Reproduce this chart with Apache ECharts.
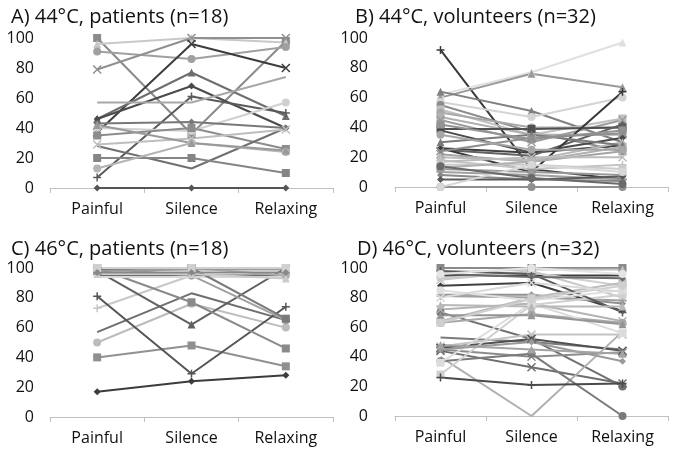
<!DOCTYPE html>
<html><head><meta charset="utf-8">
<script src="https://cdn.jsdelivr.net/npm/echarts@6/dist/echarts.min.js"></script>
<style>html,body{margin:0;padding:0;background:#fff}#c{width:675px;height:457px}</style>
</head><body><div id="c"></div>
<script>
const categories = ['Painful', 'Silence', 'Relaxing'];
const yTicks = [0, 20, 40, 60, 80, 100];
const titles = ['A) 44°C, patients (n=18)', 'B) 44°C, volunteers (n=32)', 'C) 46°C, patients (n=18)', 'D) 46°C, volunteers (n=32)'];

// Each row: one subject's ratings [Painful, Silence, Relaxing]
const panelA = [
  [0,0,0],[100,36,98],[96,100,97],[91,86,94],[79,100,100],[37,96,80],
  [46,77,48],[46,68,40],[7,61,50],[57,57,74],[40,38,57],[43,44,40],
  [35,40,26],[28,13,40],[20,20,10],[13,30,24],[29,33,39],[42,30,25]
];
const panelB = [
  [92,12,5],[62,77,97],[60,76,67],[64,51,30],[57,47,60],[55,37,24],
  [52,35,46],[50,40,40],[47,35,35],[45,30,45],[39,39,40],[38,23,33],
  [26,23,28],[25,21,42],[26,10,64],[22,17,24],[20,18,30],[18,12,15],
  [15,15,12],[13,17,27],[12,10,8],[10,8,5],[8,5,4],[5,5,7],
  [0,0,0],[0,15,10],[30,35,28],[42,32,38],[17,20,20],[24,33,36],
  [35,25,25],[14,6,2]
];
const panelC = [
  [17,24,28],[40,48,34],[50,76,60],[57,83,65],[73,95,95],[81,29,74],
  [98,62,100],[100,77,46],[95,95,95],[100,100,100],[100,95,65],[94,94,94],
  [99,100,66],[100,100,95],[98,99,99],[96,96,93],[100,100,100],[97,97,97]
];
const panelD = [
  [100,100,100],[97,99,99],[95,95,95],[88,90,71],[93,97,88],[92,98,80],
  [82,82,76],[81,80,78],[70,52,20],[72,76,64],[63,69,63],[64,80,90],
  [53,50,45],[47,55,55],[46,52,44],[45,40,43],[44,33,22],[40,0,57],
  [37,42,0],[28,75,82],[26,21,22],[36,76,56],[45,50,37],[48,45,42],
  [98,96,70],[96,94,93],[85,78,85],[75,74,74],[68,68,62],[63,79,88],
  [96,100,96],[80,90,84]
];

// Styles (kept separate from the data): line colours and marker codes per subject
const coloursA = ['#555555','#8a8a8a','#c8c8c8','#a0a0a0','#909090','#3c3c3c','#6e6e6e','#4a4a4a','#5a5a5a','#a8a8a8','#d0d0d0','#787878','#8c8c8c','#707070','#858585','#b4b4b4','#bebebe','#9a9a9a'];
const markersA = ['d','s','t','c','x','x','t','d','p','n','c','d','s','n','s','c','x','t'];
const coloursB = ['#3a3a3a','#e0e0e0','#9a9a9a','#808080','#d4d4d4','#8c8c8c','#c0c0c0','#a8a8a8','#b0b0b0','#9c9c9c','#505050','#4a4a4a','#3e3e3e','#606060','#383838','#a4a4a4','#b8b8b8','#c4c4c4','#cccccc','#b0b0b0','#989898','#a0a0a0','#888888','#5a5a5a','#909090','#d8d8d8','#7a7a7a','#949494','#bcbcbc','#8e8e8e','#a6a6a6','#6a6a6a'];
const markersB = ['p','t','t','t','c','c','s','c','s','x','s','d','d','d','p','x','t','p','s','s','c','p','d','d','c','c','t','s','x','x','c','c'];
const coloursC = ['#3c3c3c','#909090','#bcbcbc','#6e6e6e','#c8c8c8','#555555','#606060','#8a8a8a','#6a6a6a','#c0c0c0','#a0a0a0','#d8d8d8','#7a7a7a','#b0b0b0','#9a9a9a','#cccccc','#d0d0d0','#888888'];
const markersC = ['d','s','c','n','p','p','t','s','n','x','c','n','s','c','x','t','s','d'];
const coloursD = ['#8a8a8a','#c0c0c0','#3c3c3c','#404040','#d0d0d0','#c8c8c8','#909090','#a0a0a0','#707070','#b4b4b4','#a8a8a8','#bcbcbc','#7c7c7c','#c4c4c4','#505050','#8c8c8c','#6e6e6e','#b0b0b0','#7a7a7a','#d0d0d0','#4a4a4a','#dcdcdc','#9a9a9a','#a4a4a4','#5a5a5a','#6a6a6a','#e0e0e0','#b8b8b8','#949494','#cfcfcf','#e4e4e4','#dadada'];
const markersD = ['s','t','d','d','c','x','d','p','c','x','c','s','n','x','x','x','x','n','c','s','p','s','d','t','p','d','c','t','t','s','c','x'];

const X = 'path://M0,0L10,10M10,0L0,10';
const PLUS = 'path://M5,0L5,10M0,5L10,5';
const symbolMap = {d:'diamond', s:'rect', t:'triangle', c:'circle', x:X, p:PLUS, n:'none'};

const panels = [panelA, panelB, panelC, panelD];
const colours = [coloursA, coloursB, coloursC, coloursD];
const markers = [markersA, markersB, markersC, markersD];
const grids = [
  {left:50, top:38, width:283, height:150},
  {left:395, top:38, width:273, height:149},
  {left:50, top:268, width:283, height:149},
  {left:395, top:268, width:273, height:148}
];
const titlePos = [{left:6, top:2},{left:350, top:2},{left:6, top:234},{left:352, top:234}];

const font = '"Open Sans", "Liberation Sans", sans-serif';
const series = [];
panels.forEach((rows, p) => {
  rows.forEach((r, i) => {
    const col = colours[p][i];
    const code = markers[p][i];
    const sym = symbolMap[code];
    const stroke = (code === 'x' || code === 'p');
    const size = code === 'd' ? 7 : (code === 't' ? 8 : (stroke ? 8 : 8));
    series.push({
      type: 'line', xAxisIndex: p, yAxisIndex: p,
      data: r, symbol: sym, symbolSize: size, showSymbol: code !== 'n',
      lineStyle: {color: col, width: 2},
      itemStyle: {color: col, borderColor: col, borderWidth: stroke ? 1.5 : 0},
      emphasis: {disabled: true}, animation: false
    });
  });
});

const chart = echarts.init(document.getElementById('c'), null, {renderer: 'canvas'});
chart.setOption({
  animation: false,
  title: titles.map((t, i) => ({text: t, left: titlePos[i].left, top: titlePos[i].top,
    textStyle: {fontFamily: font, fontSize: 20, fontWeight: 'normal', color: '#111111'}})),
  grid: grids,
  xAxis: grids.map((g, i) => ({
    type: 'category', gridIndex: i, data: categories, boundaryGap: true,
    axisLine: {lineStyle: {color: '#c0c0c0', width: 1}},
    axisTick: {show: true, length: 5, lineStyle: {color: '#c0c0c0'}},
    axisLabel: {fontFamily: font, fontSize: 16, color: '#111111', margin: 13}
  })),
  yAxis: grids.map((g, i) => ({
    type: 'value', gridIndex: i, min: yTicks[0], max: yTicks[yTicks.length - 1], interval: 20,
    axisLine: {show: false}, axisTick: {show: false}, splitLine: {show: false},
    axisLabel: {fontFamily: font, fontSize: 16, color: '#111111', margin: (i % 2 === 0) ? 16 : 27}
  })),
  series: series
});
</script></body></html>
